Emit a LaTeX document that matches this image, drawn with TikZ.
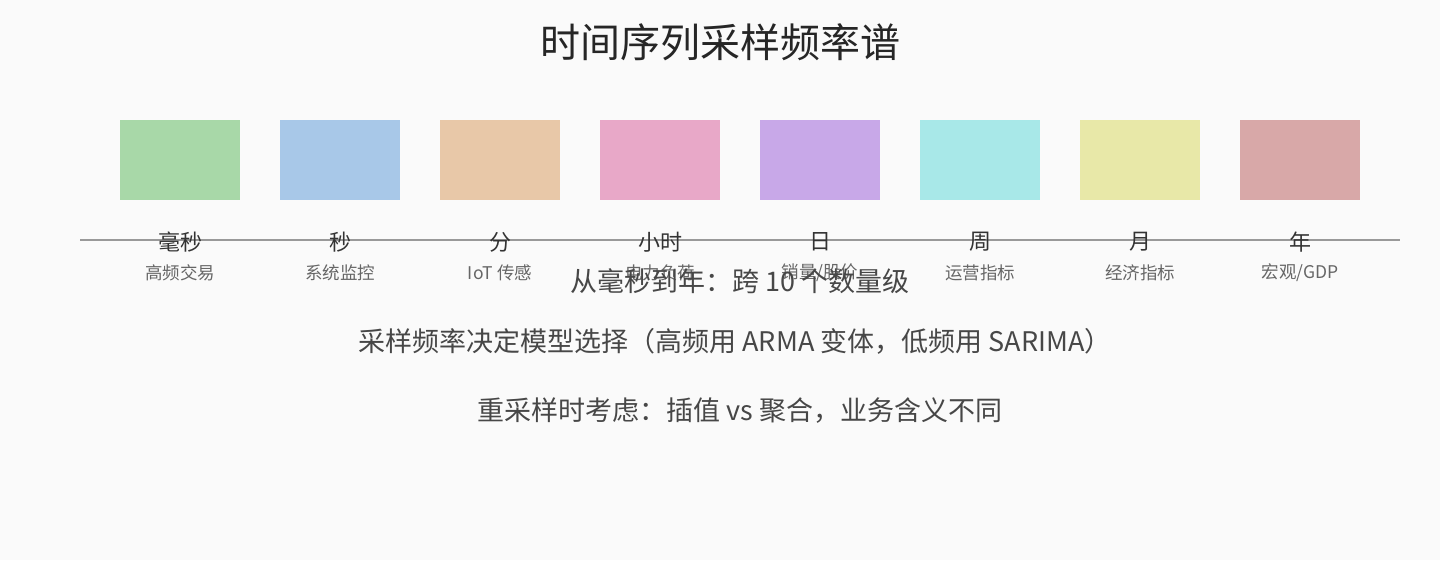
\documentclass[tikz,border=0pt]{standalone}
\usepackage{fontspec}
\setmainfont{Noto Sans CJK SC}
\definecolor{bgcol}{HTML}{FAFAFA}
\definecolor{axiscol}{HTML}{999999}
\definecolor{cMs}{HTML}{A8D8A8}
\definecolor{cSec}{HTML}{A8C8E8}
\definecolor{cMin}{HTML}{E8C8A8}
\definecolor{cHour}{HTML}{E8A8C8}
\definecolor{cDay}{HTML}{C8A8E8}
\definecolor{cWeek}{HTML}{A8E8E8}
\definecolor{cMonth}{HTML}{E8E8A8}
\definecolor{cYear}{HTML}{D8A8A8}

\begin{document}
\begin{tikzpicture}[x=1pt, y=-1pt,
    band/.style={minimum width=120pt, minimum height=80pt, inner sep=0pt},
    unitlabel/.style={font=\fontsize{22}{26}\selectfont, text=black!80},
    uselabel/.style={font=\fontsize{17.5}{21}\selectfont, text=black!60},
    note/.style={font=\fontsize{27}{32}\selectfont, text=black!72}]
				% Background
				\fill[bgcol] (0,0) rectangle (1440,560);
				\useasboundingbox (0,0) rectangle (1440,560);

				% Title
				\node[font=\fontsize{40}{46}\selectfont, text=black!85] (title) at (720,42) {时间序列采样频率谱};

				% Axis
				\coordinate (axL) at (80,240);
				\coordinate (axR) at (1400,240);
				\draw[axiscol, line width=1.5pt] (axL) -- (axR);

				% Frequency bands
				\foreach \i/\col/\unit/\use in {0/cMs/毫秒/高频交易, 1/cSec/秒/系统监控, 2/cMin/分/IoT 传感,
				    3/cHour/小时/电力负荷, 4/cDay/日/{销量/股价}, 5/cWeek/周/运营指标,
				    6/cMonth/月/经济指标, 7/cYear/年/{宏观/GDP}} {
				  \node[band, fill=\col] (band\i) at (180+160*\i,160) {};
				  \node[unitlabel] (unit\i) at (180+160*\i,242) {\unit};
				  \node[uselabel] (use\i) at (180+160*\i,273) {\use};
				}

				% Notes
				\node[note] (span) at (740,281) {从毫秒到年：跨 10 个数量级};
				\node[note] (model) at (735,341) {采样频率决定模型选择（高频用 ARMA 变体，低频用 SARIMA）};
				\node[note] (resample) at (740,411) {重采样时考虑：插值 vs 聚合，业务含义不同};
			\end{tikzpicture}
\end{document}
